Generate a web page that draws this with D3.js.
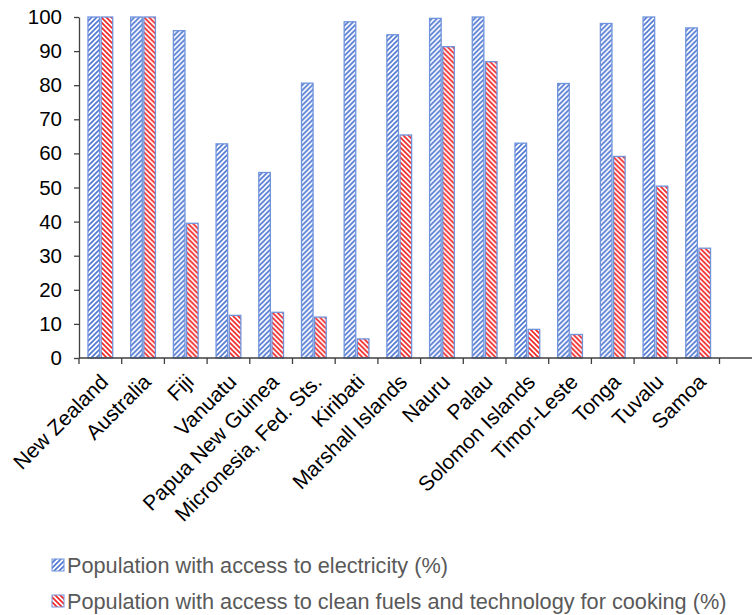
<!DOCTYPE html>
<html>
<head>
<meta charset="utf-8">
<script src="https://cdn.jsdelivr.net/npm/d3@7"></script>
<style>
  body { margin: 0; background: #fff; }
  text { font-family: "Liberation Sans", Arial, sans-serif; }
</style>
</head>
<body>
<div id="chart"></div>
<script>
// chart values
const countries = ["New Zealand", "Australia", "Fiji", "Vanuatu", "Papua New Guinea",
  "Micronesia, Fed. Sts.", "Kiribati", "Marshall Islands", "Nauru", "Palau",
  "Solomon Islands", "Timor-Leste", "Tonga", "Tuvalu", "Samoa"];
const electricity = [100, 100, 96, 62.8, 54.4, 80.6, 98.6, 94.8, 99.6, 100, 63, 80.5, 98.1, 100, 96.8];
const cooking = [100, 100, 39.5, 12.5, 13.4, 12, 5.6, 65.4, 91.3, 86.9, 8.4, 6.9, 59.1, 50.4, 32.2];
const seriesNames = ["Population with access to electricity (%)",
  "Population with access to clean fuels and technology for cooking (%)"];
const yTicks = [0, 10, 20, 30, 40, 50, 60, 70, 80, 90, 100];

const width = 754, height = 615;
const plotLeft = 79, plotRight = 719.5, plotTop = 17, plotBottom = 358;

const svg = d3.select('#chart')
    .append('svg')
    .attr('width', width)
    .attr('height', height);

// hatch patterns
const defs = svg.append('defs');
const hatch = (id, color, d) => {
    const p = defs.append('pattern')
        .attr('id', id)
        .attr('patternUnits', 'userSpaceOnUse')
        .attr('width', 5).attr('height', 5);
    p.append('rect').attr('width', 5).attr('height', 5).attr('fill', '#fff');
    p.append('path').attr('d', d)
        .attr('stroke', color).attr('stroke-width', 1.7).attr('fill', 'none');
};
hatch('hElec', '#5279d2', 'M-1,1 l2,-2 M0,5 l5,-5 M4,6 l2,-2');
hatch('hCook', '#f02828', 'M-1,4 l2,2 M0,0 l5,5 M4,-1 l2,2');
const fills = ['url(#hElec)', 'url(#hCook)'];

const x0 = d3.scaleBand().domain(countries).range([plotLeft, plotRight]).padding(0);
const x1 = d3.scaleBand().domain([0, 1])
    .range([x0.bandwidth() * 0.21, x0.bandwidth() * 0.79])
    .paddingInner(0.12);
const y = d3.scaleLinear().domain([0, 100]).range([plotBottom, plotTop]);

const data = countries.map((c, i) => ({ c, v: [electricity[i], cooking[i]] }));

// bars
const groups = svg.append('g').selectAll('g')
    .data(data)
    .join('g')
    .attr('transform', d => `translate(${x0(d.c)},0)`);

groups.selectAll('rect')
    .data(d => d.v.map((v, k) => ({ v, k })))
    .join('rect')
    .attr('x', d => x1(d.k))
    .attr('y', d => y(d.v))
    .attr('width', x1.bandwidth())
    .attr('height', d => y(0) - y(d.v))
    .attr('fill', d => fills[d.k])
    .attr('stroke', '#7094dc')
    .attr('stroke-width', 1.3);

// y axis
const yAxis = svg.append('g')
    .attr('transform', `translate(${plotLeft},0)`)
    .call(d3.axisLeft(y).tickValues(yTicks).tickSize(5).tickSizeOuter(0).tickPadding(12));
yAxis.select('.domain').attr('stroke', '#404040').attr('stroke-width', 1.3);
yAxis.selectAll('.tick line').attr('stroke', '#404040').attr('stroke-width', 1.3);
yAxis.selectAll('.tick text')
    .attr('font-size', 20.5)
    .attr('fill', '#000')
    .attr('font-family', '"Liberation Sans", Arial, sans-serif');

// x axis line and boundary ticks
const xg = svg.append('g');
xg.append('line')
    .attr('x1', plotLeft).attr('x2', 752)
    .attr('y1', plotBottom).attr('y2', plotBottom)
    .attr('stroke', '#404040').attr('stroke-width', 1.3);
xg.selectAll('line.tk')
    .data(countries.concat(['end']))
    .join('line')
    .attr('class', 'tk')
    .attr('x1', (d, i) => plotLeft + i * x0.step())
    .attr('x2', (d, i) => plotLeft + i * x0.step())
    .attr('y1', plotBottom).attr('y2', plotBottom + 6)
    .attr('stroke', '#404040').attr('stroke-width', 1.3);

xg.selectAll('text')
    .data(countries)
    .join('text')
    .attr('transform', d => `translate(${x0(d) + x0.bandwidth() / 2 + 4},${plotBottom + 20}) rotate(-45)`)
    .attr('text-anchor', 'end')
    .attr('dy', '0.35em')
    .attr('font-size', 21)
    .attr('fill', '#000')
    .text(d => d);

// legend
const legend = svg.append('g');
seriesNames.forEach((name, k) => {
    const ly = 565 + k * 36;
    legend.append('rect')
        .attr('x', 52).attr('y', ly - 6)
        .attr('width', 12).attr('height', 12)
        .attr('fill', fills[k])
        .attr('stroke', '#7094dc').attr('stroke-width', 1);
    legend.append('text')
        .attr('x', 67).attr('y', ly)
        .attr('dy', '0.35em')
        .attr('font-size', 21.7)
        .attr('fill', '#595959')
        .text(name);
});
</script>
</body>
</html>
